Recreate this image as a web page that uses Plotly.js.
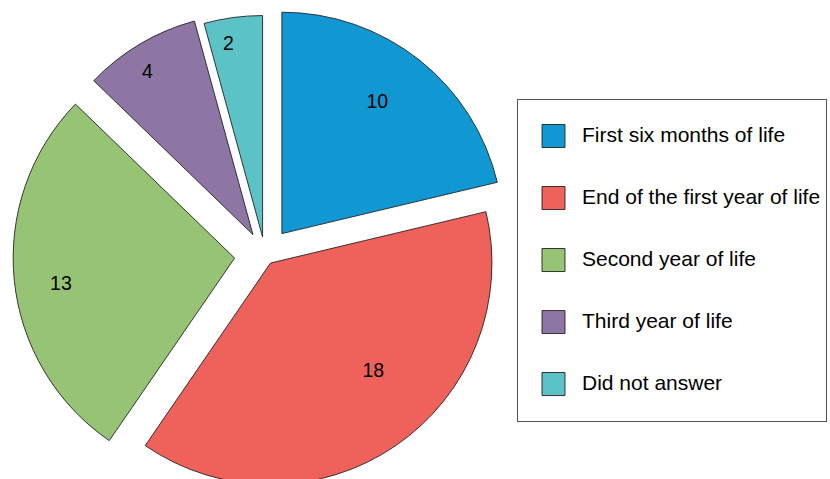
<!DOCTYPE html>
<html>
<head>
<meta charset="utf-8">
<script src="https://cdn.plot.ly/plotly-3.0.1.min.js"></script>
<style>
  html, body { margin: 0; padding: 0; background: #fff; overflow: hidden; }
  #wrap { width: 830px; height: 479px; overflow: hidden; position: relative; }
  #chart { width: 830px; height: 520px; }
</style>
</head>
<body>
<div id="wrap"><div id="chart"></div></div>
<script>
// ---- Data ----
var categories = [
  "First six months of life",
  "End of the first year of life",
  "Second year of life",
  "Third year of life",
  "Did not answer"
];
var counts = [10, 18, 13, 4, 2];

// ---- Styling ----
var sliceColors = ["#1197d1", "#ef625c", "#96c374", "#8d75a4", "#5bc3c5"];
var slicePull = [0.123, 0.044, 0.138, 0.107, 0.082];
// label nudges (non-breaking spaces / blank lines) to imitate the original label placement
var labelPad = [
  { left: 4, right: 0, above: 0, below: 2 },
  { left: 14, right: 0, above: 1, below: 0 },
  { left: 0, right: 18, above: 1, below: 0 },
  { left: 0, right: 6, above: 0, below: 1 },
  { left: 0, right: 3, above: 0, below: 0 }
];
function rep(s, n) { var o = ''; for (var i = 0; i < n; i++) o += s; return o; }
var sliceText = counts.map(function (v, i) {
  var p = labelPad[i];
  return rep('&nbsp;<br>', p.above) + rep('&nbsp;', p.left) + v + rep('&nbsp;', p.right) + rep('<br>&nbsp;', p.below);
});
// legend labels padded with blank lines to reproduce the spaced legend rows
var legendLabels = categories.map(function (c) {
  return '&nbsp;<br><span style="font-size:21px">' + c + '</span><br>&nbsp;';
});

var trace = {
  type: 'pie',
  labels: legendLabels,
  values: counts,
  text: sliceText,
  sort: false,
  direction: 'clockwise',
  rotation: 0,
  pull: slicePull,
  textinfo: 'text',
  textposition: 'inside',
  insidetextorientation: 'horizontal',
  insidetextfont: { family: 'Liberation Sans, Arial, sans-serif', size: 19.5, color: '#000' },
  marker: { colors: sliceColors, line: { color: '#222', width: 0.9 } },
  hoverinfo: 'none',
  domain: { x: [0, 0.6169], y: [0, 1] }
};

var layout = {
  width: 830,
  height: 520,
  margin: { l: 13, r: 0, t: 3, b: 13, autoexpand: false },
  paper_bgcolor: '#fff',
  plot_bgcolor: '#fff',
  font: { family: 'Liberation Sans, Arial, sans-serif', color: '#000' },
  showlegend: true,
  legend: {
    x: 0.6169, xanchor: 'left',
    y: 0.8095, yanchor: 'top',
    bgcolor: '#fff',
    bordercolor: '#555',
    borderwidth: 1,
    font: { size: 15.13, color: '#000', family: 'Liberation Sans, Arial, sans-serif' },
    itemwidth: 54,
    valign: 'middle'
  }
};

var gd = document.getElementById('chart');
function bigSymbols() {
  var p = gd.querySelectorAll('.legendpoints path.legendpie');
  p.forEach(function (el) { el.setAttribute('d', 'M15,11.5H-8V-11.5H15Z'); });
}
Plotly.newPlot(gd, [trace], layout, { displayModeBar: false, staticPlot: true }).then(function () {
  bigSymbols();
  gd.on('plotly_afterplot', bigSymbols);
});
</script>
</body>
</html>
